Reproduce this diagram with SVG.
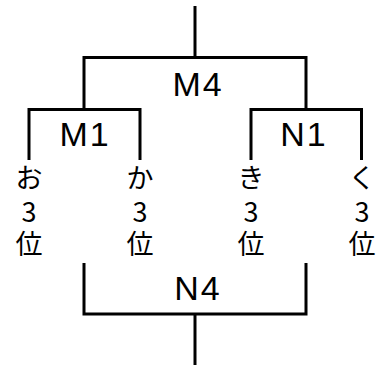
<svg xmlns="http://www.w3.org/2000/svg" width="376" height="368" viewBox="0 0 376 368">
<style>
.ln{fill:none;stroke:#000;stroke-width:3;stroke-linecap:butt;stroke-linejoin:miter}
.lb{font-family:"Liberation Sans",Arial,sans-serif;font-size:34px;fill:#000;text-anchor:middle;letter-spacing:2px}
.cl{font-family:"Noto Sans CJK JP","Liberation Sans",sans-serif;font-size:27px;fill:#000;text-anchor:middle}
</style>
<rect width="376" height="368" fill="#fff"/>
<g id="connectors">
<path class="ln" d="M195,6 V57.5"/>
<path class="ln" d="M84,109 V57.5 H306 V109"/>
<path class="ln" d="M29,160 V109.5 H140 V160"/>
<path class="ln" d="M251,160 V109.5 H361.5 V160"/>
<path class="ln" d="M84,263 V314 H306 V263"/>
<path class="ln" d="M195,314 V365"/>
</g>
<g id="M4"><text class="lb" x="198" y="96">M4</text></g>
<g id="M1"><text class="lb" x="85" y="146">M1</text></g>
<g id="N1"><text class="lb" x="304" y="146">N1</text></g>
<g id="N4"><text class="lb" x="198" y="300">N4</text></g>
<g id="o"><text class="cl" x="29" y="188">お<tspan x="29" y="222">3</tspan><tspan x="29" y="254">位</tspan></text></g>
<g id="ka"><text class="cl" x="140" y="188">か<tspan x="140" y="222">3</tspan><tspan x="140" y="254">位</tspan></text></g>
<g id="ki"><text class="cl" x="251" y="188">き<tspan x="251" y="222">3</tspan><tspan x="251" y="254">位</tspan></text></g>
<g id="ku"><text class="cl" x="362" y="188">く<tspan x="362" y="222">3</tspan><tspan x="362" y="254">位</tspan></text></g>
</svg>
